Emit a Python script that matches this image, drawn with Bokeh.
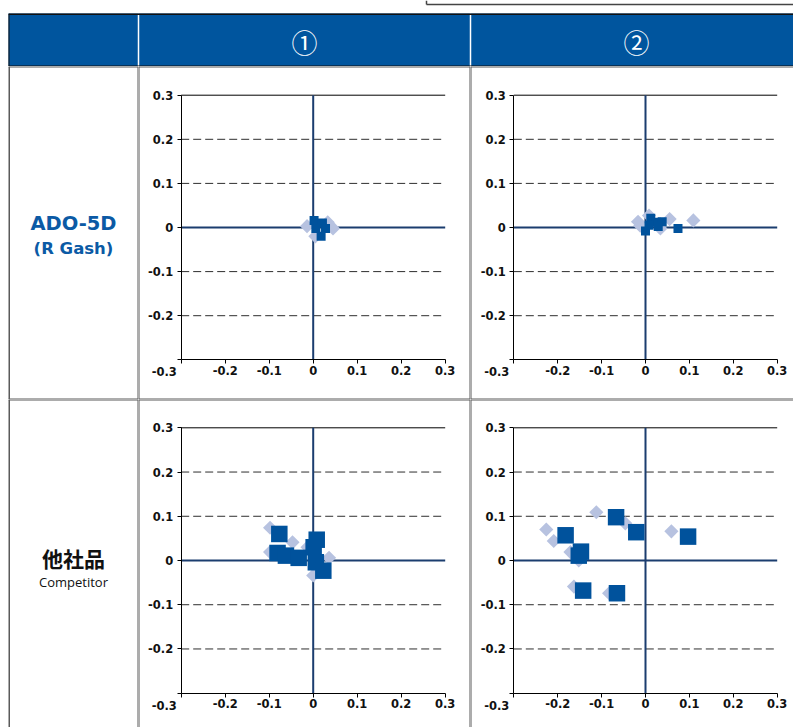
import numpy as np
from bokeh.plotting import figure
from bokeh.layouts import column, row
from bokeh.models import Range1d, FixedTicker, CustomJSTickFormatter, Span, Label
from bokeh.embed import file_html
from bokeh.resources import INLINE
from bokeh.core.properties import value

# ---------------- data ----------------
col_headers = ["①", "②"]
row_titles = ["ADO-5D", "他社品"]
row_subtitles = ["(R Gash)", "Competitor"]
axis_ticks = [-0.3, -0.2, -0.1, 0.0, 0.1, 0.2, 0.3]
dashed_levels = [-0.2, -0.1, 0.1, 0.2]

# ADO-5D, ①
ado1_sq_x = [0.002, 0.021, 0.028, 0.006, 0.018]
ado1_sq_y = [0.016, 0.010, -0.002, -0.002, -0.020]
ado1_di_x = [-0.014, 0.045, 0.005, 0.033]
ado1_di_y = [0.003, -0.002, -0.020, 0.012]
# ADO-5D, ②
ado2_sq_x = [0.000, 0.012, 0.025, 0.038, 0.008, 0.029, 0.074]
ado2_sq_y = [-0.008, 0.021, 0.012, 0.013, 0.005, 0.002, -0.002]
ado2_di_x = [-0.017, 0.008, 0.055, 0.109, 0.034, -0.012]
ado2_di_y = [0.013, 0.027, 0.019, 0.016, -0.002, 0.004]
# Competitor, ①
comp1_sq_x = [-0.077, 0.008, -0.081, -0.062, -0.033, 0.001, 0.006, 0.023]
comp1_sq_y = [0.060, 0.047, 0.017, 0.011, 0.006, 0.030, -0.004, -0.023]
comp1_di_x = [-0.098, -0.047, -0.098, -0.013, 0.036, 0.000]
comp1_di_y = [0.074, 0.041, 0.019, 0.030, 0.006, -0.034]
# Competitor, ②
comp2_sq_x = [-0.182, -0.147, -0.152, -0.067, -0.021, 0.097, -0.142, -0.065]
comp2_sq_y = [0.057, 0.020, 0.011, 0.098, 0.064, 0.054, -0.068, -0.074]
comp2_di_x = [-0.226, -0.209, -0.112, -0.046, 0.059, -0.171, -0.152, -0.163, -0.083]
comp2_di_y = [0.070, 0.044, 0.109, 0.084, 0.066, 0.019, 0.000, -0.059, -0.074]

# ---------------- style / geometry ----------------
HEADER_BLUE = "#00559E"
TEXT_BLUE = "#0B5AA5"
SQ_COLOR = "#00529C"
DI_COLOR = "#B7C2E0"
ZERO_COLOR = "#1B3D6F"
BORDER = "#5A5A5A"
LATIN = "DejaVu Sans"
LATIN2 = "Open Sans"
CJK = "Noto Sans CJK JP"
TICK_SIZE = "11.5px"

LEFT_PAD = 8
LABEL_W, COL1_W, COL2_W = 130, 332, 323
TOP_GAP, HEAD_H, ROW1_H, ROW2_H = 13, 53, 333, 328
COL_PX = [(42.7, 306.7), (43.3, 306.7)]     # plot area left/right inside cell
ROW_PX = [(28.7, 293.3), (28.3, 293.7)]     # plot area top/bottom inside cell
HEAD_CX = [296, 628]
LABEL_Y = [(156.5, 182), (158.5, 182.5)]

TABLE_W = LABEL_W + COL1_W + COL2_W
TOTAL_W = LEFT_PAD + TABLE_W


def blank(w, h, fill="white"):
    p = figure(width=w, height=h, x_range=Range1d(0, w), y_range=Range1d(h, 0),
               output_backend="svg", toolbar_location=None, min_border=0,
               x_axis_location=None, y_axis_location=None)
    p.title.visible = False
    p.outline_line_color = None
    p.grid.visible = False
    p.background_fill_color = fill
    p.border_fill_color = fill
    return p


def make_plot(w, h, cpx, rpx, sqx, sqy, dix, diy, sq_size, di_size, right_border, bottom_border):
    lo, hi = axis_ticks[0], axis_ticks[-1]
    kx = (cpx[1] - cpx[0]) / (hi - lo)
    ky = (rpx[1] - rpx[0]) / (hi - lo)
    x0 = lo - cpx[0] / kx
    x1 = x0 + w / kx
    y1 = hi + rpx[0] / ky
    y0 = y1 - h / ky
    p = figure(width=w, height=h, x_range=Range1d(x0, x1), y_range=Range1d(y0, y1),
               output_backend="svg", toolbar_location=None, min_border=0)
    p.title.visible = False
    p.outline_line_color = None
    p.background_fill_color = "white"
    p.border_fill_color = "white"
    p.grid.visible = False

    fmt = CustomJSTickFormatter(args=dict(lo=lo), code="""
        if (Math.abs(tick) < 1e-9) return "0";
        if (Math.abs(tick - lo) < 1e-9) return "";
        return tick.toFixed(1);
    """)
    for ax in (p.xaxis[0], p.yaxis[0]):
        ax.fixed_location = lo
        ax.bounds = (lo, hi)
        ax.ticker = FixedTicker(ticks=axis_ticks)
        ax.formatter = fmt
        ax.major_tick_out = 4
        ax.major_tick_in = 0
        ax.minor_tick_line_color = None
        ax.axis_line_color = "black"
        ax.axis_line_width = 1
        ax.major_tick_line_color = "black"
        ax.major_label_text_font = LATIN
        ax.major_label_text_font_style = "bold"
        ax.major_label_text_font_size = TICK_SIZE
        ax.major_label_text_color = "#111111"
    p.xaxis[0].major_label_standoff = 2
    p.yaxis[0].major_label_standoff = 4

    n = len(dashed_levels)
    p.segment(x0=[lo] * n, x1=[hi] * n, y0=dashed_levels, y1=dashed_levels,
              line_color="#2E2E2E", line_width=1, line_dash="8 4")
    p.segment(x0=[lo], x1=[hi], y0=[hi], y1=[hi], line_color="black", line_width=1)
    p.segment(x0=[lo, 0], x1=[hi, 0], y0=[0, lo], y1=[0, hi], line_color=ZERO_COLOR, line_width=2)

    p.scatter(dix, diy, marker="square", size=di_size, angle=np.pi / 4,
              fill_color=DI_COLOR, line_color=None)
    p.scatter(sqx, sqy, marker="square", size=sq_size, fill_color=SQ_COLOR, line_color=None)

    p.add_layout(Label(x=lo, y=lo, text="-0.3", x_offset=-17, y_offset=-12,
                       text_align="center", text_baseline="middle",
                       text_font=LATIN, text_font_style="bold", text_font_size=TICK_SIZE,
                       text_color="#111111"))

    p.add_layout(Span(location=x0, dimension="height", line_color=BORDER, line_width=2))
    p.add_layout(Span(location=y1, dimension="width", line_color=BORDER, line_width=2))
    if right_border:
        p.add_layout(Span(location=x1, dimension="height", line_color=BORDER, line_width=2))
    if bottom_border:
        p.add_layout(Span(location=y0, dimension="width", line_color=BORDER, line_width=2))
    return p


def make_label(h, idx, title_font, title_size, title_color, sub_font, sub_size, sub_style, sub_color, bottom_border):
    p = blank(LABEL_W, h)
    ty, sy = LABEL_Y[idx]
    p.text(x=[LABEL_W / 2], y=[ty], text=[row_titles[idx]], text_align="center",
           text_baseline="middle", text_font=value(title_font), text_font_style="bold",
           text_font_size=value(title_size), text_color=title_color)
    p.text(x=[LABEL_W / 2], y=[sy], text=[row_subtitles[idx]], text_align="center",
           text_baseline="middle", text_font=value(sub_font), text_font_style=sub_style,
           text_font_size=value(sub_size), text_color=sub_color)
    p.add_layout(Span(location=0, dimension="height", line_color=BORDER, line_width=3))
    p.add_layout(Span(location=LABEL_W, dimension="height", line_color=BORDER, line_width=2))
    p.add_layout(Span(location=0, dimension="width", line_color=BORDER, line_width=2))
    if bottom_border:
        p.add_layout(Span(location=h, dimension="width", line_color=BORDER, line_width=2))
    return p


# top strip: lower edge of a box that sits above the table
top = blank(TOTAL_W, TOP_GAP)
top.segment(x0=[426, 426], x1=[TOTAL_W, 426], y0=[4, 0], y1=[4, 4], line_color="#444444", line_width=1.5)

# header
hdr = blank(TABLE_W, HEAD_H, HEADER_BLUE)
hdr.add_layout(Span(location=LABEL_W, dimension="height", line_color="white", line_width=1.5))
hdr.add_layout(Span(location=LABEL_W + COL1_W, dimension="height", line_color="white", line_width=1.5))
hdr.add_layout(Span(location=0, dimension="width", line_color="#111111", line_width=3))
hdr.add_layout(Span(location=HEAD_H, dimension="width", line_color="#111111", line_width=2))
hdr.add_layout(Span(location=0, dimension="height", line_color="#111111", line_width=2))
hdr.text(x=HEAD_CX, y=[HEAD_H / 2 + 1] * 2, text=col_headers, text_align="center",
         text_baseline="middle", text_font=value(CJK), text_font_size=value("26px"),
         text_color="white")

l1 = make_label(ROW1_H, 0, LATIN, "19.5px", TEXT_BLUE, LATIN, "16.5px", "bold", TEXT_BLUE, True)
l2 = make_label(ROW2_H, 1, CJK, "21px", "#111111", LATIN2, "13px", "normal", "#111111", False)

p11 = make_plot(COL1_W, ROW1_H, COL_PX[0], ROW_PX[0], ado1_sq_x, ado1_sq_y, ado1_di_x, ado1_di_y, 9, 10, True, True)
p12 = make_plot(COL2_W, ROW1_H, COL_PX[1], ROW_PX[0], ado2_sq_x, ado2_sq_y, ado2_di_x, ado2_di_y, 9, 10, False, True)
p21 = make_plot(COL1_W, ROW2_H, COL_PX[0], ROW_PX[1], comp1_sq_x, comp1_sq_y, comp1_di_x, comp1_di_y, 16.5, 10, True, False)
p22 = make_plot(COL2_W, ROW2_H, COL_PX[1], ROW_PX[1], comp2_sq_x, comp2_sq_y, comp2_di_x, comp2_di_y, 16.5, 10, False, False)

layout = column(top,
                row(blank(LEFT_PAD, HEAD_H), hdr),
                row(blank(LEFT_PAD, ROW1_H), l1, p11, p12),
                row(blank(LEFT_PAD, ROW2_H), l2, p21, p22))

open("out.html", "w").write(file_html(layout, INLINE))
